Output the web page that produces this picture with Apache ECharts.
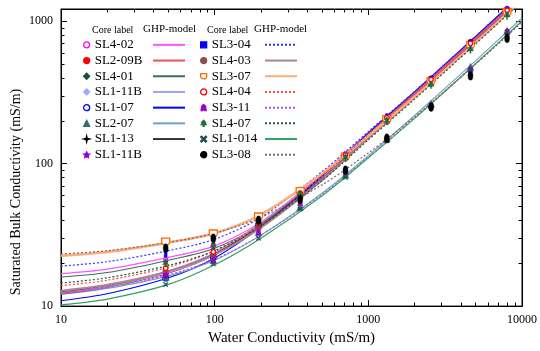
<!DOCTYPE html>
<html>
<head>
<meta charset="utf-8">
<script src="https://cdn.jsdelivr.net/npm/echarts@6/dist/echarts.min.js"></script>
<style>
html, body { margin: 0; padding: 0; background: #fff; }
#main { width: 540px; height: 351px; }
</style>
</head>
<body>
<div id="main"></div>
<script>
// 模型曲线横坐标 (mS/m)
const modelX = [10, 20, 50, 100, 200, 500, 1000, 2000, 5000, 10000];
// 实测点横坐标 (mS/m)
const coreX = [48, 98, 193, 360, 710, 1320, 2560, 4620, 8000];

// 刻度
const majorTicks = [10, 100, 1000, 10000];
const xMinorTicks = [20, 30, 40, 50, 60, 70, 80, 90, 200, 300, 400, 500, 600, 700, 800, 900,
    2000, 3000, 4000, 5000, 6000, 7000, 8000, 9000];
const yMinorTicks = [20, 30, 40, 50, 60, 70, 80, 90, 200, 300, 400, 500, 600, 700, 800, 900];

// GHP-model 曲线
const ghpSL4_02 = [16.9, 18.2, 22.0, 26.5, 39.0, 83, 160, 306, 746, 1480];
const ghpSL2_09B = [12.3, 13.8, 17.6, 23.5, 37.5, 82, 160, 310, 760, 1510];
const ghpSL4_01 = [16.0, 17.2, 21.0, 25.5, 37.5, 79, 153, 292, 712, 1410];
const ghpSL1_11B = [12.5, 13.9, 17.6, 23.8, 38.5, 85, 166, 321, 786, 1561];
const ghpSL1_07 = [10.9, 12.2, 15.8, 21.8, 36.0, 82, 164, 319, 784, 1558];
const ghpSL2_07 = [12.1, 13.3, 16.3, 21.0, 31.5, 62, 114, 218, 530, 1055];
const ghpSL1_13 = [12.6, 14.0, 17.5, 23.3, 36.5, 79, 156, 300, 735, 1460];
const ghpSL1_11B_b = [12.1, 13.5, 17.0, 22.8, 36.0, 78.5, 155, 300, 735, 1460];
const ghpSL3_04 = [19.1, 20.5, 24.5, 29.5, 42.0, 88, 168, 322, 787, 1562];
const ghpSL4_03 = [12.8, 14.1, 17.5, 23.0, 35.5, 76.5, 151, 291, 711, 1411];
const ghpSL3_07 = [22.6, 24.0, 28.0, 32.5, 44.0, 85, 157, 295, 712, 1412];
const ghpSL4_04 = [13.9, 15.2, 18.8, 24.5, 38.0, 82, 161, 311, 761, 1511];
const ghpSL3_11 = [12.5, 13.6, 16.6, 21.3, 31.5, 61, 111, 210, 505, 1005];
const ghpSL4_07 = [14.5, 15.8, 19.3, 24.5, 36.5, 76, 147, 284, 695, 1380];
const ghpSL1_014 = [10.2, 11.2, 14.2, 19.5, 30.0, 59.5, 110, 208, 505, 1005];
const ghpSL3_08 = [23.2, 24.5, 28.0, 32.5, 42.0, 71, 119, 213, 500, 985];

// 实测 (Core label)
const coreSL4_02 = [21, 26.5, 38.5, 63, 116, 210, 385, 690, 1190];
const coreSL2_09B = [17, 23, 37, 62, 116, 208, 390, 700, 1200];
const coreSL4_01 = [20.5, 25, 37, 60, 110, 198, 370, 660, 1130];
const coreSL1_11B = [17.5, 24, 39.5, 66, 117, 215, 395, 710, 1210];
const coreSL1_07 = [15.7, 22, 37, 62, 114, 207, 392, 705, 1200];
const coreSL2_07 = [16, 21, 33, 49.6, 83.6, 150, 265, 480, 860];
const coreSL1_13 = [16.5, 22.5, 36, 60, 112, 200, 375, 680, 1160];
const coreSL1_11B_b = [16.8, 22.8, 36.5, 61, 113, 203, 380, 685, 1170];
const coreSL3_04 = [23.2, 31, 41, 65, 115, 214, 392, 712, 1215];
const coreSL4_03 = [17.5, 22.5, 35.5, 58, 109, 197, 365, 655, 1125];
const coreSL3_07 = [28.3, 32.3, 42.5, 64, 112, 205, 380, 680, 1160];
const coreSL4_04 = [18.5, 24, 38, 62, 115, 210, 390, 700, 1195];
const coreSL3_11 = [16.5, 21, 33, 53, 88, 155, 256, 460, 850];
const coreSL4_07 = [20, 26.7, 39, 61, 110, 200, 360, 636, 1100];
const coreSL1_014 = [14.2, 19.8, 30, 48, 80, 145, 255, 455, 840];
const coreSL3_08 = [25.5, 30, 40, 56, 90, 150, 250, 415, 760];

// 自定义符号
const STAR5 = 'path://M0,-10 L2.9,-4 L9.5,-3.1 L4.8,1.5 L5.9,8.1 L0,5 L-5.9,8.1 L-4.8,1.5 L-9.5,-3.1 L-2.9,-4 Z';
const STAR4 = 'path://M0,-10 L2,-2 L10,0 L2,2 L0,10 L-2,2 L-10,0 L-2,-2 Z';
const SHIELD = 'path://M-10,-8 L10,-8 L10,0 A10,10 0 0 1 -10,0 Z';
const TREE = 'path://M0,-10 L6,-3 L2.5,-3 L8,4 L1.5,4 L1.5,10 L-1.5,10 L-1.5,4 L-8,4 L-2.5,-3 L-6,-3 Z';
const XMARK = 'path://M-10,-7 L-7,-10 L0,-3 L7,-10 L10,-7 L3,0 L10,7 L7,10 L0,3 L-7,10 L-10,7 L-3,0 Z';
const ARCH = 'path://M-8,10 L-6,-4 Q0,-14 6,-4 L8,10 L3,10 L0,2 L-3,10 Z';
const OPLUS = 'path://M-10,0 A10,10 0 1 1 10,0 A10,10 0 1 1 -10,0 Z M-7,0 A7,7 0 1 0 7,0 A7,7 0 1 0 -7,0 Z M-1.3,-7 L1.3,-7 L1.3,7 L-1.3,7 Z M-7,-1.3 L7,-1.3 L7,1.3 L-7,1.3 Z';

const DOT = [2, 2];
const serif = 'Liberation Serif';

const cores = [
    { name: 'SL4-02', pts: coreSL4_02, ghp: ghpSL4_02, symbol: 'circle', size: [4, 6], fill: '#fff', color: '#ff00ff', line: '#ff55ff', type: 'solid', width: 1.2 },
    { name: 'SL2-09B', pts: coreSL2_09B, ghp: ghpSL2_09B, symbol: 'circle', size: 5, fill: '#ff0000', color: '#ff0000', line: '#f05050', type: 'solid', width: 1.8 },
    { name: 'SL4-01', pts: coreSL4_01, ghp: ghpSL4_01, symbol: 'diamond', size: [4, 7], fill: '#1e4d3c', color: '#1e4d3c', line: '#3d6b60', type: 'solid', width: 1.1 },
    { name: 'SL1-11B', pts: coreSL1_11B, ghp: ghpSL1_11B, symbol: 'diamond', size: 6, fill: '#a0a8ff', color: '#a0a8ff', line: '#9f9fff', type: 'solid', width: 1.1 },
    { name: 'SL1-07', pts: coreSL1_07, ghp: ghpSL1_07, symbol: 'circle', size: 5.5, fill: '#fff', color: '#0000ff', line: '#0000ee', type: 'solid', width: 1.1 },
    { name: 'SL2-07', pts: coreSL2_07, ghp: ghpSL2_07, symbol: 'triangle', size: 7, fill: '#2f6f6f', color: '#2f6f6f', line: '#6f9fbf', type: 'solid', width: 1.1 },
    { name: 'SL1-13', pts: coreSL1_13, ghp: ghpSL1_13, symbol: STAR4, size: 6, fill: '#000', color: '#000', line: '#333333', type: 'solid', width: 1 },
    { name: 'SL1-11B ', pts: coreSL1_11B_b, ghp: ghpSL1_11B_b, symbol: STAR5, size: 6, fill: '#9400d3', color: '#9400d3', line: '#a050c8', type: 'solid', width: 1.1 },
    { name: 'SL3-04', pts: coreSL3_04, ghp: ghpSL3_04, symbol: 'rect', size: [3, 6], fill: '#0000ff', color: '#0000ff', line: '#3333ff', type: DOT, width: 1.2 },
    { name: 'SL4-03', pts: coreSL4_03, ghp: ghpSL4_03, symbol: OPLUS, size: 6, fill: '#8b4f4f', color: '#8b4f4f', line: '#a88888', type: 'solid', width: 2 },
    { name: 'SL3-07', pts: coreSL3_07, ghp: ghpSL3_07, symbol: SHIELD, size: 8, fill: '#fff', color: '#ff6600', line: '#ffaa77', type: 'solid', width: 2.5 },
    { name: 'SL4-04', pts: coreSL4_04, ghp: ghpSL4_04, symbol: 'circle', size: 4.5, fill: '#fff', color: '#ff0000', line: '#ff4444', type: DOT, width: 1.2 },
    { name: 'SL3-11', pts: coreSL3_11, ghp: ghpSL3_11, symbol: ARCH, size: 6, fill: '#9900cc', color: '#9900cc', line: '#b055ee', type: DOT, width: 1.2 },
    { name: 'SL4-07', pts: coreSL4_07, ghp: ghpSL4_07, symbol: TREE, size: 8, fill: '#1e6b3c', color: '#1e6b3c', line: '#1e5a3a', type: DOT, width: 1.2 },
    { name: 'SL1-014', pts: coreSL1_014, ghp: ghpSL1_014, symbol: XMARK, size: 5, fill: '#1e4d4d', color: '#1e4d4d', line: '#30a060', type: 'solid', width: 1.2 },
    { name: 'SL3-08', pts: coreSL3_08, ghp: ghpSL3_08, symbol: 'circle', size: [5, 9], fill: '#000', color: '#000', line: '#886666', type: DOT, width: 1.2 }
];

const lineSeries = cores.map(c => ({
    name: c.name.trim() + ' GHP',
    type: 'line',
    smooth: 0.3,
    symbol: 'none',
    data: modelX.map((x, i) => [x, c.ghp[i]]),
    lineStyle: { color: c.line, width: c.width, type: c.type },
    itemStyle: { color: c.line },
    z: 2
}));
const coreSeries = cores.map(c => ({
    name: c.name,
    type: 'scatter',
    symbol: c.symbol,
    symbolSize: c.size,
    symbolKeepAspect: true,
    data: coreX.map((x, i) => [x, c.pts[i]]),
    itemStyle: { color: c.fill, borderColor: c.color, borderWidth: c.fill === '#fff' ? 1.3 : 0.3, opacity: 1 },
    z: 3
}));

const legendText = { fontFamily: serif, fontSize: 13, color: '#000', lineHeight: 15.7 };
const markLegend = (names, left) => ({
    data: names, left: left, top: 37, orient: 'vertical', itemGap: 0,
    itemWidth: 6, itemHeight: 6, selectedMode: false, padding: 0,
    itemStyle: { borderWidth: 1.3 },
    textStyle: legendText,
    formatter: n => n.trim()
});
// 只显示线段样式，隐藏中间的点
const lineLegend = (names, left) => ({
    data: names, left: left, top: 37, orient: 'vertical', itemGap: 0,
    itemWidth: 32, itemHeight: 6, selectedMode: false, padding: 0,
    itemStyle: { color: 'rgba(0,0,0,0)', borderWidth: 0, borderColor: 'rgba(0,0,0,0)' },
    textStyle: legendText,
    formatter: () => ' '
});

const logAxis = (pos, ticks, len, showLabel, extra) => Object.assign({
    type: 'log', logBase: 10, position: pos,
    axisLine: { show: len > 5, lineStyle: { color: '#000', width: 1 } },
    axisTick: { show: true, inside: true, length: len, customValues: ticks, lineStyle: { color: '#000', width: 1 } },
    axisLabel: { show: showLabel, customValues: ticks, fontFamily: serif, fontSize: 12, color: '#000', formatter: v => String(v) },
    splitLine: { show: false },
    minorTick: { show: false }
}, extra);

const xr = { min: 10, max: 10000 };
const yr = { min: 10, max: 1220 };

const option = {
    animation: false,
    backgroundColor: '#fff',
    textStyle: { fontFamily: serif },
    grid: { left: 61, right: 16, top: 9, bottom: 42, show: true, borderColor: '#000', borderWidth: 1, backgroundColor: 'transparent' },
    xAxis: [
        logAxis('bottom', majorTicks, 6, true, Object.assign({
            name: 'Water Conductivity (mS/m)', nameLocation: 'middle', nameGap: 23,
            nameTextStyle: { fontFamily: serif, fontSize: 15, color: '#000' }
        }, xr)),
        logAxis('bottom', xMinorTicks, 3.5, false, xr),
        logAxis('top', majorTicks, 6, false, xr),
        logAxis('top', xMinorTicks, 3.5, false, xr)
    ],
    yAxis: [
        logAxis('left', majorTicks, 6, true, yr),
        logAxis('left', yMinorTicks, 3.5, false, yr),
        logAxis('right', majorTicks, 6, false, yr),
        logAxis('right', yMinorTicks, 3.5, false, yr)
    ],
    legend: [
        markLegend(cores.slice(0, 8).map(c => c.name), 83),
        lineLegend(lineSeries.slice(0, 8).map(s => s.name), 152),
        markLegend(cores.slice(8).map(c => c.name), 200),
        lineLegend(lineSeries.slice(8).map(s => s.name), 264)
    ],
    graphic: [
        { type: 'text', left: 92, top: 25, style: { text: 'Core label', fontFamily: serif, fontSize: 10, fill: '#000' } },
        { type: 'text', left: 143, top: 24, style: { text: 'GHP-model', fontFamily: serif, fontSize: 11, fill: '#000' } },
        { type: 'text', left: 207, top: 25, style: { text: 'Core label', fontFamily: serif, fontSize: 10, fill: '#000' } },
        { type: 'text', left: 254, top: 24, style: { text: 'GHP-model', fontFamily: serif, fontSize: 11, fill: '#000' } },
        // 纵轴标题（原图中偏下）
        { type: 'text', x: 16, y: 192, rotation: Math.PI / 2,
          style: { text: 'Saturated Bulk Conductivity (mS/m)', fontFamily: serif, fontSize: 14, fill: '#000', align: 'center', verticalAlign: 'middle' } }
    ],
    series: lineSeries.concat(coreSeries)
};

const myChart = echarts.init(document.getElementById('main'));
myChart.setOption(option);
</script>
</body>
</html>
